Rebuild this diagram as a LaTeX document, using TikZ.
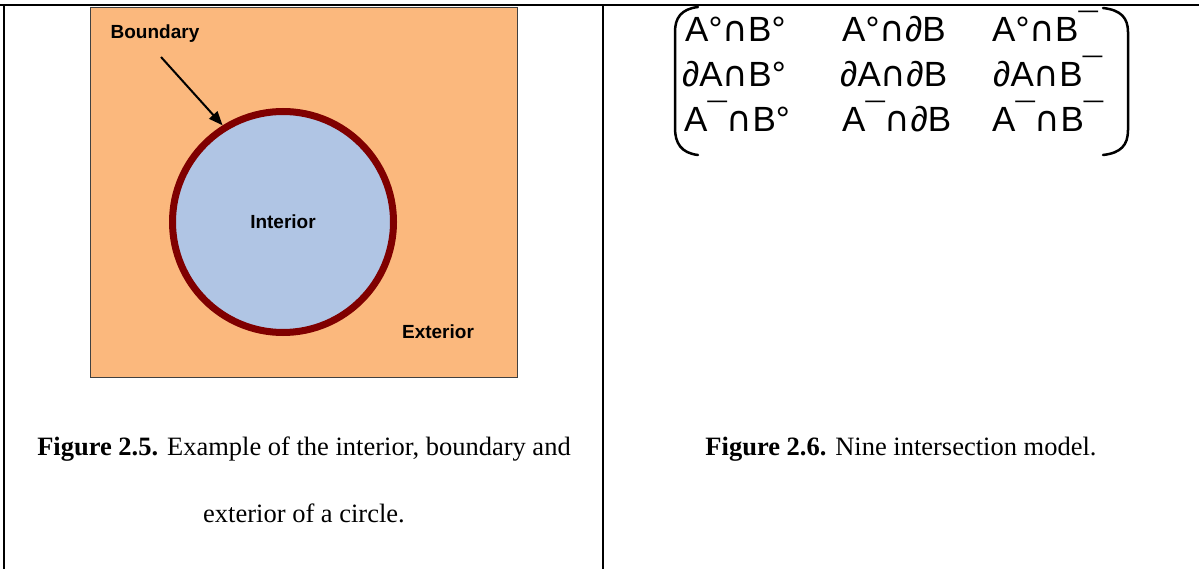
\documentclass[tikz,border=0pt]{standalone}
\usepackage{fontspec}
\setmainfont{Liberation Serif}
\newfontfamily\arialfont{Liberation Sans}
\newfontfamily\symfont{DejaVu Sans}
\usetikzlibrary{positioning,arrows.meta}
\definecolor{extcolor}{RGB}{251,184,125}
\definecolor{intcolor}{RGB}{176,197,228}
\definecolor{bndcolor}{RGB}{128,0,0}
\newcommand{\cmpl}{\raisebox{0.12em}{¯}}
\newcommand{\meet}{{\symfont ∩}}

\begin{document}
\begin{tikzpicture}[x=1pt, y=-1pt,
  rule/.style={line width=2.5pt},
  lbl/.style={font=\arialfont\fontsize{19}{19}\selectfont\bfseries, inner sep=0pt},
  cell/.style={anchor=base west, inner sep=0pt, font=\arialfont\fontsize{35}{35}\selectfont},
  capline/.style={font=\fontsize{26.5}{26.5}\selectfont, inner sep=0pt},
  paren/.style={line width=2.5pt, line cap=round},
  arr/.style={-{Triangle[length=14pt, width=11pt]}, line width=2pt},
]
\useasboundingbox (0,0) rectangle (1199,569);

% ===== table rules =====
\draw[rule] (0,5) -- (1199,5);
\draw[rule] (4,5) -- (4,569);
\draw[rule] (603,5) -- (603,569);

% ===== (left) interior / boundary / exterior =====
\draw[fill=extcolor, draw=black!75, line width=1pt] (90,8) rectangle (517,377);
\node[circle, draw=bndcolor, fill=intcolor, line width=7pt, minimum size=221pt, inner sep=0pt] (disc) at (283,222) {};

\node[lbl] (intlbl) at (283,222) {Interior};
\node[lbl] (bndlbl) at (155,34) {Boundary};
\node[lbl] (extlbl) at (438,332) {Exterior};

\coordinate (bndtail) at (161,57);
\draw[arr] (bndtail) -- (disc.122);

\node[capline] (cap5a) at (304,449) {\textbf{Figure 2.5.} Example of the interior, boundary and};
\node[capline] (cap5b) at (304,513) {exterior of a circle.};

% ===== (right) nine intersection matrix =====
\node[cell] (ii) at (685,42)  {A°\meet B°};
\node[cell] (ib) at (842,42)  {A°\meet∂B};
\node[cell] (ie) at (992,42)  {A°\meet B\cmpl};
\node[cell] (bi) at (682,87)  {∂A\meet B°};
\node[cell] (bb) at (840,87)  {∂A\meet∂B};
\node[cell] (be) at (993,87)  {∂A\meet B\cmpl};
\node[cell] (ei) at (684,132) {A\cmpl\meet B°};
\node[cell] (eb) at (842,132) {A\cmpl\meet∂B};
\node[cell] (ee) at (992,132) {A\cmpl\meet B\cmpl};

\draw[paren] (698,7) .. controls (681,9) and (675,18) .. (675,32) -- (675,128)
  .. controls (675,143) and (681,153) .. (698,155);
\draw[paren] (1103,8) .. controls (1121,10) and (1128,18) .. (1128,32) -- (1128,130)
  .. controls (1128,145) and (1121,153) .. (1103,155);

\node[capline] (cap6) at (901,449) {\textbf{Figure 2.6.} Nine intersection model.};

\end{tikzpicture}
\end{document}
